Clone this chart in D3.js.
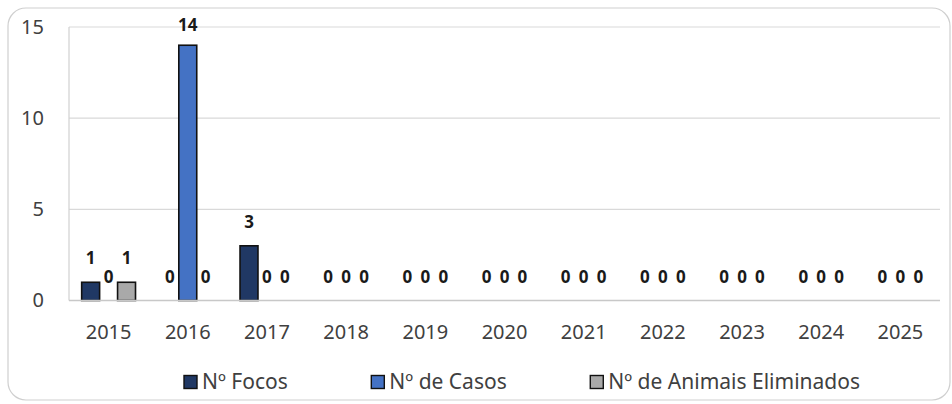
<!DOCTYPE html>
<html>
<head>
<meta charset="utf-8">
<script src="https://cdn.jsdelivr.net/npm/d3@7"></script>
<style>
  html, body { margin: 0; padding: 0; background: #ffffff; }
  svg { display: block; }
  text { font-family: "Noto Sans", "Open Sans", sans-serif; }
</style>
</head>
<body>
<svg id="chart" width="952" height="404"></svg>
<script>
// Data
const years = ["2015","2016","2017","2018","2019","2020","2021","2022","2023","2024","2025"];
const focos = [1, 0, 3, 0, 0, 0, 0, 0, 0, 0, 0];
const casos = [0, 14, 0, 0, 0, 0, 0, 0, 0, 0, 0];
const eliminados = [1, 0, 0, 0, 0, 0, 0, 0, 0, 0, 0];
const seriesNames = ["Nº Focos", "Nº de Casos", "Nº de Animais Eliminados"];
const seriesColors = ["#203864", "#4472C4", "#A9A9A9"];
const yTicks = [0, 5, 10, 15];

const keys = ["focos", "casos", "eliminados"];
const rows = years.map((y, i) => ({ year: y, focos: focos[i], casos: casos[i], eliminados: eliminados[i] }));

const svg = d3.select("#chart");
const plot = { left: 69, right: 940, top: 27, bottom: 300.5 };

// Outer frame
svg.append("rect")
  .attr("x", 8).attr("y", 8).attr("width", 942).attr("height", 392)
  .attr("rx", 18).attr("ry", 18)
  .attr("fill", "#ffffff").attr("stroke", "#cfcfcf").attr("stroke-width", 1.2);

const x0 = d3.scaleBand().domain(years).range([plot.left, plot.right])
  .paddingInner(0.32).paddingOuter(0.16);
const x1 = d3.scaleBand().domain(keys).range([0, x0.bandwidth()]);
const y = d3.scaleLinear().domain([0, 15]).range([plot.bottom, plot.top]);

// Gridlines
svg.append("g").selectAll("line").data(yTicks.filter(t => t > 0)).join("line")
  .attr("x1", plot.left).attr("x2", plot.right)
  .attr("y1", d => y(d)).attr("y2", d => y(d))
  .attr("stroke", "#d9d9d9").attr("stroke-width", 1.2);

// Left axis line
svg.append("line")
  .attr("x1", plot.left).attr("x2", plot.left)
  .attr("y1", plot.top).attr("y2", plot.bottom)
  .attr("stroke", "#d0d0d0").attr("stroke-width", 1.2);

// Y axis labels
const yAxis = d3.axisLeft(y).tickValues(yTicks).tickSize(0).tickPadding(25);
const gy = svg.append("g").attr("transform", `translate(${plot.left},0)`).call(yAxis);
gy.select(".domain").remove();
gy.selectAll("text").attr("font-size", 20).attr("fill", "#404040")
  .attr("font-family", "'Noto Sans', sans-serif");

// Bars
const groups = svg.append("g").selectAll("g").data(rows).join("g")
  .attr("transform", d => `translate(${x0(d.year)},0)`);

groups.selectAll("rect").data(d => keys.map((k, i) => ({ key: k, i, value: d[k] })))
  .join("rect")
  .filter(d => d.value > 0)
  .attr("x", d => x1(d.key))
  .attr("y", d => y(d.value))
  .attr("width", x1.bandwidth())
  .attr("height", d => y(0) - y(d.value))
  .attr("fill", d => seriesColors[d.i])
  .attr("stroke", "#111111").attr("stroke-width", 1.6);

// Value labels
groups.selectAll("text.val").data(d => keys.map((k, i) => ({ key: k, i, value: d[k] })))
  .join("text").attr("class", "val")
  .attr("x", d => x1(d.key) + x1.bandwidth() / 2)
  .attr("y", d => Math.max(y(d.value) - 18, 31))
  .attr("text-anchor", "middle")
  .attr("font-size", 17).attr("font-weight", "bold").attr("fill", "#1a1a1a")
  .text(d => d.value);

// X axis baseline
svg.append("line")
  .attr("x1", plot.left).attr("x2", plot.right)
  .attr("y1", plot.bottom).attr("y2", plot.bottom)
  .attr("stroke", "#c8c8c8").attr("stroke-width", 1.6);

// X axis labels
const xAxis = d3.axisBottom(x0).tickSize(0).tickPadding(24);
const gx = svg.append("g").attr("transform", `translate(0,${plot.bottom})`).call(xAxis);
gx.select(".domain").remove();
gx.selectAll("text").attr("font-size", 20).attr("fill", "#404040")
  .attr("font-family", "'Noto Sans', sans-serif");

// Legend: spread between fixed left and right extents
const legend = svg.append("g");
const legendY = 382;
const legendLeft = 184, legendRight = 860;
const items = legend.selectAll("g").data(seriesNames).join("g");
items.append("rect")
  .attr("width", 13).attr("height", 13).attr("y", legendY - 6.5)
  .attr("fill", (d, i) => seriesColors[i])
  .attr("stroke", "#111111").attr("stroke-width", 1.4);
items.append("text")
  .attr("x", 18).attr("y", legendY).attr("dy", "0.35em")
  .attr("font-size", 21).attr("fill", "#404040")
  .text(d => d);
const widths = [];
items.each(function() { widths.push(this.getBBox().width); });
const gap = (legendRight - legendLeft - d3.sum(widths)) / (widths.length - 1);
let cx = legendLeft;
items.attr("transform", (d, i) => {
  const t = `translate(${cx},0)`;
  cx += widths[i] + gap;
  return t;
});
</script>
</body>
</html>
